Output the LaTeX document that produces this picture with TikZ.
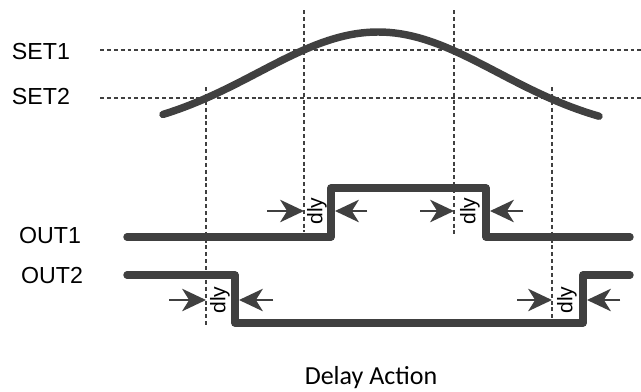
\documentclass[tikz,border=0pt]{standalone}
\usepackage{fontspec}
\setmainfont{Liberation Sans}
\newfontfamily\captionfont{Carlito}
\usetikzlibrary{arrows.meta}
\definecolor{sigcol}{HTML}{404040}

\begin{document}
\begin{tikzpicture}[x=0.025cm, y=-0.025cm,
    signal/.style={draw=sigcol, line width=5.3pt, line cap=round, line join=round},
    guide/.style={draw=sigcol, line width=1.3pt, dash pattern=on 2.8pt off 2.1pt},
    dlyarrow/.style={draw=sigcol, fill=sigcol, line width=1.4pt, -{Stealth[length=17pt, width=16pt, inset=5pt]}},
    lbl/.style={font=\fontsize{16.5}{20}\selectfont, inner sep=0pt},
    dlytext/.style={font=\fontsize{15}{17}\selectfont, inner sep=0pt, rotate=90}]
  \useasboundingbox (0,0) rectangle (641,391);

  % Levels
  \node[lbl] (set1) at (41,52) {SET1};
  \node[lbl] (set2) at (41,97) {SET2};
  \draw[guide] (100,50) -- (641,50);
  \draw[guide] (100,98) -- (641,98);

  % Crossing points
  \draw[guide] (206,87) -- (206,326);
  \draw[guide] (304,10) -- (304,232);
  \draw[guide] (454,10) -- (454,236);
  \draw[guide] (552,87) -- (552,326);

  % Input value
  \draw[signal] plot[domain=163:599, samples=80] (\x, {135-103*exp(-((\x-378)/100)^2/2.87)});

  % Outputs
  \node[lbl] (out1) at (50,236) {OUT1};
  \node[lbl] (out2) at (52,276) {OUT2};
  \draw[signal] (127,237) -- (331,237) -- (331,188) -- (486,188) -- (486,237) -- (630,237);
  \draw[signal] (127,275) -- (235,275) -- (235,323) -- (583,323) -- (583,275) -- (630,275);

  % Delays on OUT1
  \draw[dlyarrow] (267,211) -- (304,211);
  \draw[dlyarrow] (367,211) -- (335,211);
  \node[dlytext] (dly1) at (317,211) {dly};
  \draw[dlyarrow] (420,211) -- (454,211);
  \draw[dlyarrow] (523,211) -- (490,211);
  \node[dlytext] (dly2) at (470,211) {dly};

  % Delays on OUT2
  \draw[dlyarrow] (169,300) -- (206,300);
  \draw[dlyarrow] (273,300) -- (239,300);
  \node[dlytext] (dly3) at (220,300) {dly};
  \draw[dlyarrow] (517,300) -- (552,300);
  \draw[dlyarrow] (620,300) -- (587,300);
  \node[dlytext] (dly4) at (567,300) {dly};

  \node[font=\captionfont\fontsize{18.5}{22}\selectfont, inner sep=0pt, anchor=base] (caption) at (371,384) {Delay Action};
\end{tikzpicture}
\end{document}
